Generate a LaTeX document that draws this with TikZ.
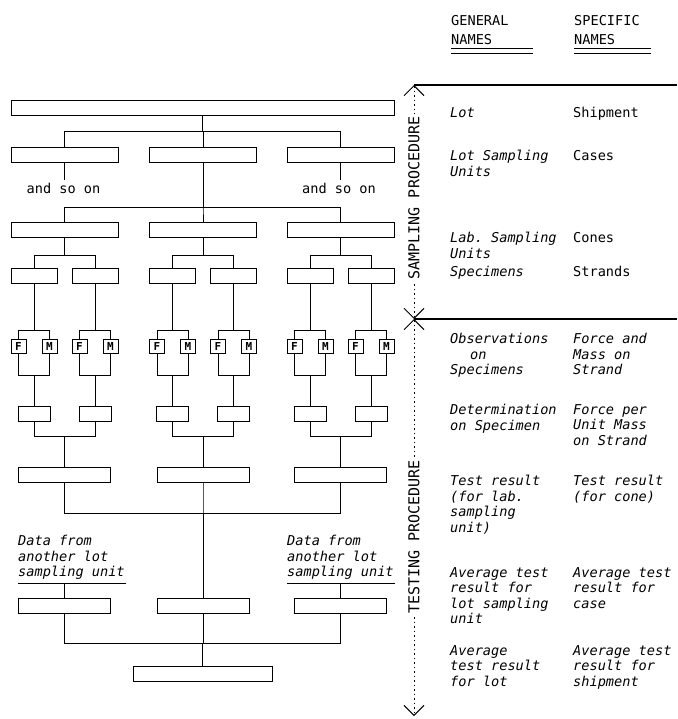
\documentclass[tikz,border=0pt]{standalone}
\usepackage{fontspec}
\setmonofont{DejaVu Sans Mono}[ItalicFont={DejaVu Sans Mono Oblique},BoldFont={DejaVu Sans Mono Bold}]
\usetikzlibrary{arrows.meta}
\tikzset{
	bx/.style={draw,line width=0.9pt,inner sep=0pt,minimum height=15pt},
	fm/.style={draw,line width=0.9pt,inner sep=0pt,minimum width=15pt,minimum height=14pt,font=\ttfamily\bfseries\fontsize{11}{11}\selectfont},
	ln/.style={line width=0.9pt},
	sn/.style={anchor=north west,inner sep=0pt,align=left,font=\ttfamily\fontsize{13.6}{15.5}\selectfont},
	gn/.style={sn,font=\ttfamily\itshape\fontsize{13.6}{15.5}\selectfont},
	hd/.style={sn,font=\ttfamily\fontsize{13.6}{19}\selectfont},
	proc/.style={line width=0.9pt,dash pattern=on 1.5pt off 3pt,{Straight Barb[length=10pt,width=20pt]}-{Straight Barb[length=10pt,width=20pt]}},
	vt/.style={rotate=90,fill=white,inner sep=3pt,font=\ttfamily\fontsize{15}{15}\selectfont}
}
\begin{document}
\begin{tikzpicture}[x=1pt,y=-1pt]
	\useasboundingbox (0,0) rectangle (677,719);
	\node[bx,minimum width=383pt] (lot) at (202.5,108) {};
	\foreach \g/\x in {1/64.5,2/203,3/340.5}{
		\node[bx,minimum width=107pt] (u\g) at (\x,154.5) {};
		\node[bx,minimum width=107pt] (c\g) at (\x,230) {};
		\node[bx,minimum width=92pt] (r\g) at (\x,475) {};
		\node[bx,minimum width=92pt] (a\g) at (\x,605.5) {};
		\foreach \s/\dx in {a/-30.5,b/30.5}{
			\node[bx,minimum width=46pt] (s\g\s) at (\x+\dx,276) {};
			\node[fm] (f\g\s) at (\x+\dx-15.5,346) {F};
			\node[fm] (m\g\s) at (\x+\dx+15.5,346) {M};
			\node[bx,minimum width=32pt] (d\g\s) at (\x+\dx,413.5) {};
		}
	}
	\node[bx,minimum width=139pt] (avg) at (202.5,674) {};
	\node[sn,anchor=center,inner sep=3pt] (aso1) at (63.5,188) {and so on};
	\node[sn,anchor=center,inner sep=3pt] (aso3) at (339,188) {and so on};
	\node[gn] (dat1) at (18,535) {Data from\\another lot\\sampling unit};
	\node[gn] (dat3) at (287,535) {Data from\\another lot\\sampling unit};
	\coordinate (ul1) at ([yshift=-4pt]dat1.south west);
	\coordinate (ul3) at ([yshift=-4pt]dat3.south west);
	\draw[ln] (ul1) -- ++(108,0);
	\draw[ln] (ul3) -- ++(108,0);
	\foreach \g in {1,2,3}{
		\draw[ln] (lot.south) -- ++(0,16) -| (u\g.north);
		\draw[ln] (u2.south) -- ++(0,45) -| (c\g.north);
		\draw[ln] (r\g.south) -- ++(0,30) -| (a2.north);
		\draw[ln] (a\g.south) -- ++(0,30) -| (avg.north);
		\foreach \s in {a,b}{
			\draw[ln] (c\g.south) -- ++(0,17) -| (s\g\s.north);
			\draw[ln] (s\g\s.south) -- ++(0,46) -| (f\g\s.north);
			\draw[ln] (s\g\s.south) -- ++(0,46) -| (m\g\s.north);
			\draw[ln] (f\g\s.south) -- ++(0,22) -| (m\g\s.south);
			\draw[ln] (d\g\s.north) -- ++(0,-31);
			\draw[ln] (d\g\s.south) -- ++(0,15) -| (r\g.north);
		}
	}
	\draw[ln] (u1.south) -- (u1.south |- aso1.north);
	\draw[ln] (u3.south) -- (u3.south |- aso3.north);
	\draw[ln] (a1.north) -- (a1.north |- ul1);
	\draw[ln] (a3.north) -- (a3.north |- ul3);
	\coordinate (pt) at (414,85);
	\coordinate (pm) at (414,319);
	\coordinate (pb) at (414,716);
	\coordinate (et) at (677,85);
	\coordinate (em) at (677,319);
	\draw[line width=1.1pt] (pt) -- (et);
	\draw[line width=1.1pt] (pm) -- (em);
	\draw[proc] (pt) -- (pm);
	\draw[proc] (pm) -- (pb);
	\node[vt] (samp) at (414,198) {SAMPLING PROCEDURE};
	\node[vt] (test) at (414,537) {TESTING PROCEDURE};
	\node[hd] (gen) at (451,15) {GENERAL\\NAMES};
	\node[hd] (spec) at (574,15) {SPECIFIC\\NAMES};
	\draw[ln] ([yshift=-33.5pt]gen.north west) -- ++(82,0);
	\draw[ln] ([yshift=-38pt]gen.north west) -- ++(82,0);
	\draw[ln] ([yshift=-33.5pt]spec.north west) -- ++(77,0);
	\draw[ln] ([yshift=-38pt]spec.north west) -- ++(77,0);
	\node[gn] (g1) at (450,107) {Lot};
	\node[gn] (g2) at (450,150) {Lot Sampling\\Units};
	\node[gn] (g3) at (450,232) {Lab. Sampling\\Units};
	\node[gn] (g4) at (450,266) {Specimens};
	\node[gn] (g5) at (450,333) {Observations\\\hspace*{20pt}on\\Specimens};
	\node[gn] (g6) at (450,404) {Determination\\on Specimen};
	\node[gn] (g7) at (450,475) {Test result\\(for lab.\\sampling\\unit)};
	\node[gn] (g8) at (450,567) {Average test\\result for\\lot sampling\\unit};
	\node[gn] (g9) at (450,645) {Average\\test result\\for lot};
	\node[sn] (p1) at (573,107) {Shipment};
	\node[sn] (p2) at (573,150) {Cases};
	\node[sn] (p3) at (573,232) {Cones};
	\node[sn] (p4) at (573,266) {Strands};
	\node[gn] (p5) at (573,333) {Force and\\Mass on\\Strand};
	\node[gn] (p6) at (573,404) {Force per\\Unit Mass\\on Strand};
	\node[gn] (p7) at (573,475) {Test result\\(for cone)};
	\node[gn] (p8) at (573,567) {Average test\\result for\\case};
	\node[gn] (p9) at (573,645) {Average test\\result for\\shipment};
\end{tikzpicture}
\end{document}
